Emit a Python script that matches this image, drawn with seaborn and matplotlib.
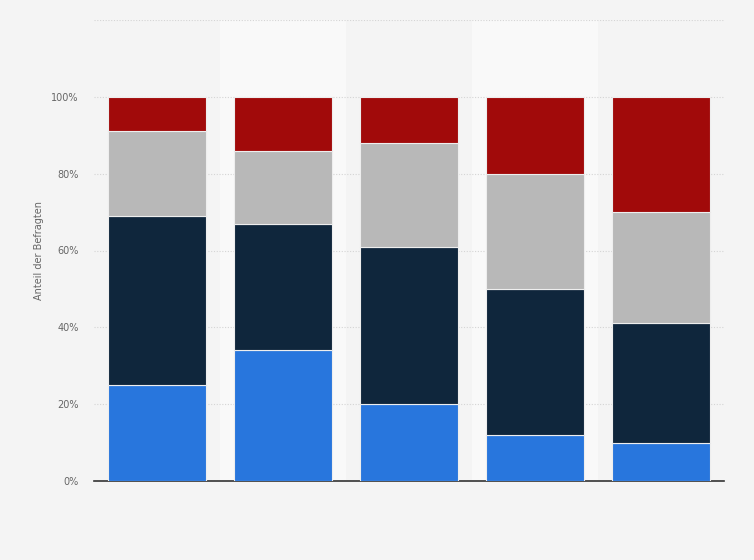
import numpy as np
import pandas as pd
import matplotlib
matplotlib.use('Agg')
import matplotlib.pyplot as plt
import seaborn as sns

# data (percent of respondents, stacked bottom -> top)
groups = ['1', '2', '3', '4', '5']
blue_vals = [25, 34, 20, 12, 10]
navy_vals = [44, 33, 41, 38, 31]
gray_vals = [22, 19, 27, 30, 29]
red_vals = [9, 14, 12, 20, 30]

series = [blue_vals, navy_vals, gray_vals, red_vals]
colors = ['#2876dd', '#0f263c', '#b8b8b8', '#a10a0a']

sns.set_style('white')
plt.rcParams['font.family'] = ['DejaVu Sans']

fig = plt.figure(figsize=(7.54, 5.6), dpi=100)
fig.patch.set_facecolor('#f4f4f4')
ax = fig.add_axes([94 / 754, 79 / 560, 630 / 754, 461 / 560])
ax.set_facecolor('#f4f4f4')

# alternating lighter bands
for i in range(len(groups)):
    if i % 2 == 1:
        ax.axvspan(i - 0.5, i + 0.5, color='#f9f9f9', zorder=0, lw=0)

bottom = np.zeros(len(groups))
for vals, col in zip(series, colors):
    df = pd.DataFrame({'group': groups, 'value': vals})
    sns.barplot(data=df, x='group', y='value', color=col, bottom=bottom,
                width=0.78, edgecolor='#eeeeee', linewidth=0.8, ax=ax,
                saturation=1, zorder=3)
    bottom += np.array(vals)

ax.set_xlim(-0.5, len(groups) - 0.5)
ax.set_ylim(0, 120)
ax.set_yticks([0, 20, 40, 60, 80, 100, 120])
ax.set_yticklabels(['0%', '20%', '40%', '60%', '80%', '100%', ''])
ax.yaxis.grid(True, linestyle=(0, (1, 1.5)), color='#d4d4d4', linewidth=0.8, zorder=1)
ax.set_axisbelow(True)
ax.tick_params(axis='y', length=0, labelsize=7, labelcolor='#666666', pad=11)
ax.set_xticks([])
ax.set_xlabel('')
ax.set_ylabel('Anteil der Befragten', fontsize=7, color='#666666', labelpad=5)

for s in ['top', 'right', 'left']:
    ax.spines[s].set_visible(False)
ax.spines['bottom'].set_color('#333333')
ax.spines['bottom'].set_linewidth(1.2)

fig.savefig('out.png', dpi=100, facecolor=fig.get_facecolor())
